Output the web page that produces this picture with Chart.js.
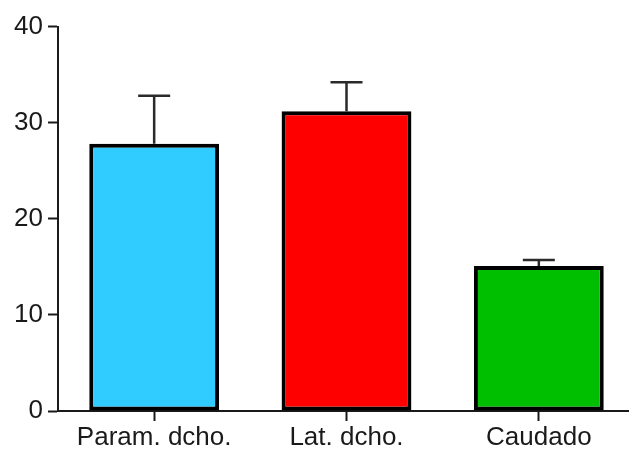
<!DOCTYPE html>
<html lang="es">
<head>
  <meta charset="UTF-8" />
  <title>Param. dcho. / Lat. dcho. / Caudado</title>
  <script src="https://cdn.jsdelivr.net/npm/chart.js"></script>
  <style>
    html, body { margin: 0; padding: 0; background: #fff; overflow: hidden; }
    /* el eje X sigue hasta el borde derecho, por eso el lienzo es un poco más ancho */
    #wrap { width: 635px; height: 453px; }
  </style>
</head>
<body>
  <div id="wrap"><canvas id="barChart"></canvas></div>

  <script>
    // datos
    const categories = ["Param. dcho.", "Lat. dcho.", "Caudado"];
    const means = [27.8, 31.2, 15.1];
    const errorTops = [32.8, 34.2, 15.7];
    const barColors = ["#30CCFF", "#FF0000", "#00BF00"];
    const yTicks = [0, 10, 20, 30, 40];

    const axisColor = "#1a1a1a";
    const fontSpec = { family: "Arial, 'Liberation Sans', sans-serif", size: 26, lineHeight: 1.0 };

    // barras de error (solo hacia arriba), dibujadas antes de las barras
    const errorBars = {
      id: "errorBars",
      beforeDatasetsDraw(chart) {
        const { ctx, scales: { x, y } } = chart;
        ctx.save();
        ctx.strokeStyle = "#2a2a2a";
        ctx.lineWidth = 2.5;
        errorTops.forEach((top, i) => {
          const cx = x.getPixelForValue(i);
          const yBar = y.getPixelForValue(means[i]);
          const yTop = y.getPixelForValue(top);
          ctx.beginPath();
          ctx.moveTo(cx, yBar);
          ctx.lineTo(cx, yTop);
          ctx.moveTo(cx - 16, yTop);
          ctx.lineTo(cx + 16, yTop);
          ctx.stroke();
        });
        ctx.restore();
      }
    };

    new Chart(document.getElementById("barChart"), {
      type: "bar",
      data: {
        labels: categories,
        datasets: [{
          data: means,
          backgroundColor: barColors,
          borderColor: "#000",
          borderWidth: 4,
          borderSkipped: false,
          barPercentage: 0.675,
          categoryPercentage: 1
        }]
      },
      options: {
        responsive: true,
        maintainAspectRatio: false,
        animation: false,
        layout: { padding: { top: 26.6, right: 0, bottom: 0, left: 0 } },
        plugins: {
          legend: { display: false },
          tooltip: { enabled: false }
        },
        scales: {
          x: {
            offset: true,
            afterFit: axis => { axis.height = 42; },
            grid: {
              offset: false,
              drawOnChartArea: false,
              drawTicks: true,
              tickLength: 10,
              tickWidth: 2,
              tickColor: axisColor
            },
            border: { display: true, color: axisColor, width: 2 },
            ticks: { color: axisColor, font: fontSpec, padding: 4, maxRotation: 0 }
          },
          y: {
            min: 0,
            max: 40,
            afterFit: axis => { axis.width = 58; },
            afterBuildTicks: axis => { axis.ticks = yTicks.map(v => ({ value: v })); },
            grid: {
              drawOnChartArea: false,
              drawTicks: true,
              tickLength: 10,
              tickWidth: 2,
              tickColor: axisColor
            },
            border: { display: true, color: axisColor, width: 2 },
            ticks: { color: axisColor, font: fontSpec, padding: 5 }
          }
        }
      },
      plugins: [errorBars]
    });
  </script>
</body>
</html>
